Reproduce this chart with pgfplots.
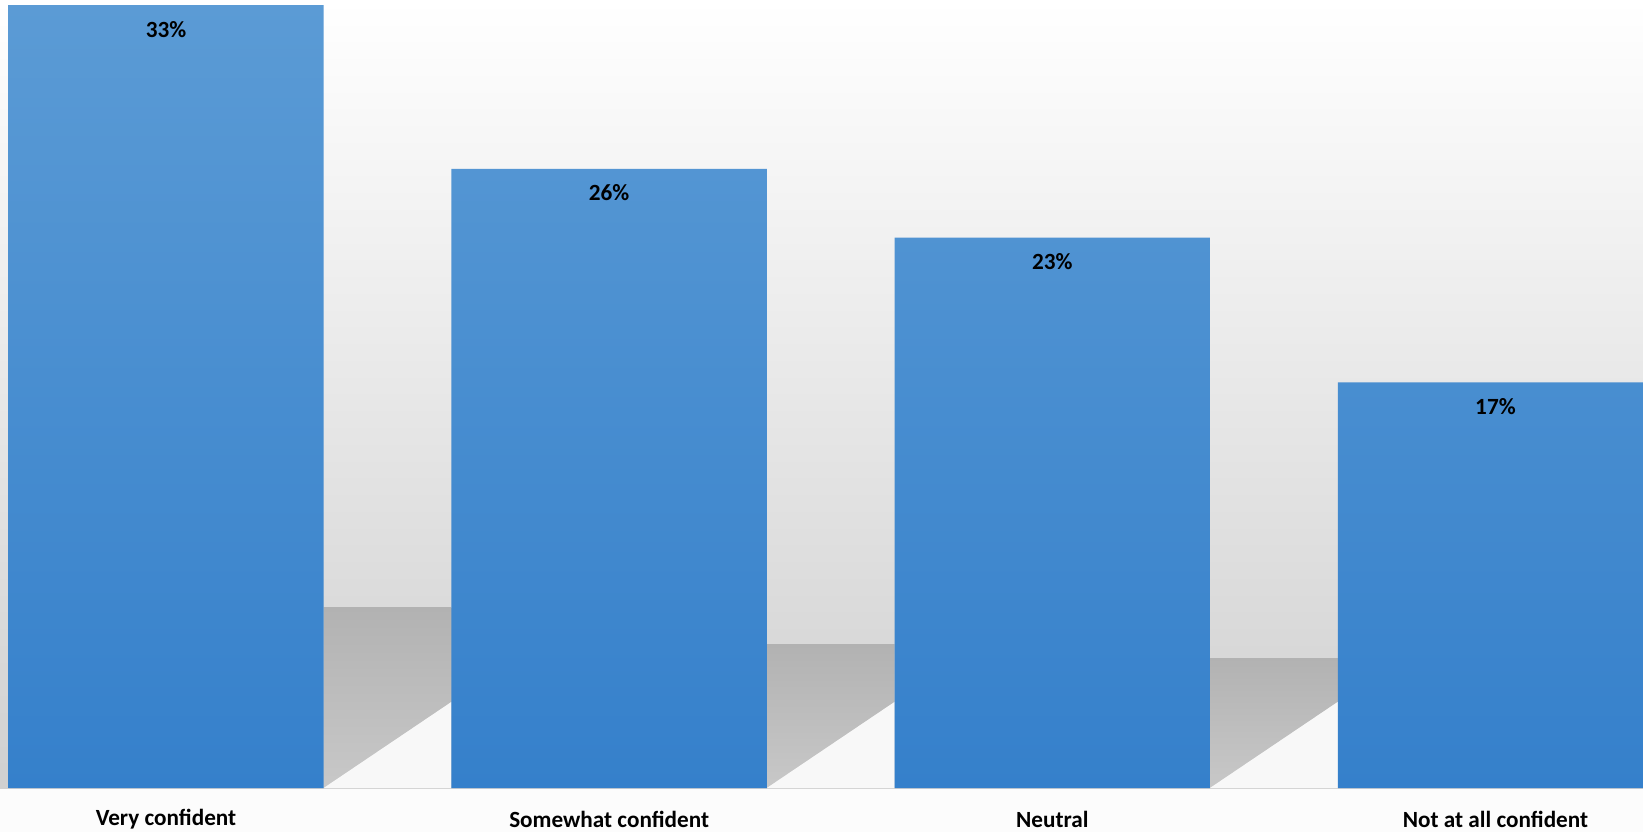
\documentclass[border=0pt]{standalone}
\usepackage{pgfplots}
\pgfplotsset{compat=1.18}
\usepackage{fontspec}
\setmainfont{Carlito}
\definecolor{bartop}{HTML}{5B9BD5}
\definecolor{barbot}{HTML}{3580CB}
\definecolor{bgbot}{HTML}{D0D0D0}
\definecolor{shtop}{HTML}{B2B2B2}
\definecolor{shbot}{HTML}{C8C8C8}
\definecolor{floorc}{HTML}{F8F8F8}
\begin{document}
\begin{tikzpicture}
\useasboundingbox (0,-22pt) rectangle (821.5pt,394pt);
\fill[fill={rgb,255:red,252;green,252;blue,252}] (0,-22pt) rectangle (821.5pt,0);
\shade[top color=white, bottom color=bgbot] (0,0) rectangle (821.5pt,394pt);
\begin{axis}[
  at={(0,0)}, anchor=south west, scale only axis,
  width=821.5pt, height=394pt,
  xmin=-0.3746, xmax=3.333, ymin=0, ymax=33.22,
  ybar, bar width=0.7116,
  axis line style={draw=none},
  major tick length=0pt,
  xtick={0,1,2,3},
  xticklabels={Very confident, Somewhat confident, Neutral, Not at all confident},
  xticklabel style={font=\bfseries\fontsize{11.6}{13}\selectfont, anchor=center, yshift=-15.5pt},
  ytick=\empty,
  clip=true,
  /pgf/number format/assume math mode=true,
  /pgf/number format/fixed, /pgf/number format/precision=0,
]
% cast shadows and floor patches between bars
\shade[top color=shtop, bottom color=shbot] (axis cs:0.3558,7.63) -- (axis cs:0.6442,7.63) -- (axis cs:0.6442,3.63) -- (axis cs:0.3558,0) -- cycle;
\fill[floorc] (axis cs:0.3558,0) -- (axis cs:0.6442,3.63) -- (axis cs:0.6442,0) -- cycle;
\shade[top color=shtop, bottom color=shbot] (axis cs:1.3558,6.07) -- (axis cs:1.6442,6.07) -- (axis cs:1.6442,3.63) -- (axis cs:1.3558,0) -- cycle;
\fill[floorc] (axis cs:1.3558,0) -- (axis cs:1.6442,3.63) -- (axis cs:1.6442,0) -- cycle;
\shade[top color=shtop, bottom color=shbot] (axis cs:2.3558,5.48) -- (axis cs:2.6442,5.48) -- (axis cs:2.6442,3.63) -- (axis cs:2.3558,0) -- cycle;
\fill[floorc] (axis cs:2.3558,0) -- (axis cs:2.6442,3.63) -- (axis cs:2.6442,0) -- cycle;
\addplot[draw=none, top color=bartop, bottom color=barbot,
  nodes near coords={\pgfmathprintnumber{\pgfplotspointmeta}\%},
  every node near coord/.append style={font=\bfseries\fontsize{11.6}{13}\selectfont, text=black, anchor=center, yshift=-12pt}]
  coordinates {(0,33) (1,26.1) (2,23.2) (3,17.1)};
\end{axis}
\end{tikzpicture}
\end{document}
